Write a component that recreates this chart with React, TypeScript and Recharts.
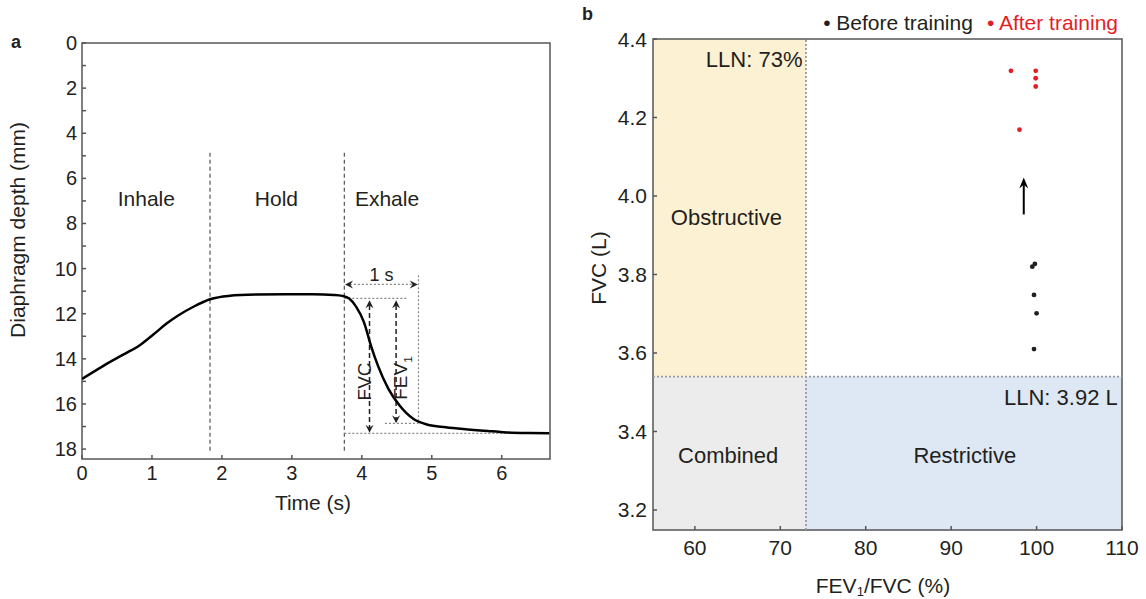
import React from "react";
import {
  ComposedChart,
  Line,
  ReferenceArea,
  ReferenceDot,
  ReferenceLine,
  Scatter,
  XAxis,
  YAxis,
} from "recharts";

const FONT = '"Liberation Sans", Arial, Helvetica, sans-serif';
const INK = "#231f20";
const FRAME = "#555555";
const RED = "#e41e26";

// panel a – diaphragm trace during a forced breath
const traceTime = [
  0, 0.3, 0.61, 0.8, 1.02, 1.2, 1.38, 1.6, 1.83, 2.09, 2.5, 2.91, 3.3, 3.6, 3.72,
  3.82, 3.92, 4.03, 4.13, 4.23, 4.38, 4.54, 4.74, 4.94, 5.2, 5.45, 5.8, 6.07, 6.4, 6.68,
];
const traceDepth = [
  14.89, 14.32, 13.78, 13.45, 12.92, 12.46, 12.07, 11.68, 11.36, 11.21, 11.15, 11.14,
  11.14, 11.17, 11.21, 11.33, 11.7, 12.37, 13.41, 14.3, 15.33, 16.07, 16.67, 16.92,
  17.03, 17.11, 17.2, 17.26, 17.29, 17.3,
];
const timeTicks = [0, 1, 2, 3, 4, 5, 6];
const depthTicks = [0, 1, 2, 3, 4, 5, 6, 7, 8, 9, 10, 11, 12, 13, 14, 15, 16, 17, 18];
const phaseNames = ["Inhale", "Hold", "Exhale"];
const phaseCentres = [0.92, 2.78, 4.36];
const phaseBounds = [1.83, 3.75];

// panel b – FVC vs FEV1/FVC
const beforeRatio = [99.5, 99.8, 99.7, 100.0, 99.7];
const beforeFvc = [3.82, 3.827, 3.748, 3.701, 3.61];
const afterRatio = [97.0, 99.9, 99.9, 99.9, 98.0];
const afterFvc = [4.319, 4.319, 4.3, 4.279, 4.169];
const ratioTicks = [60, 70, 80, 90, 100, 110];
const fvcTicks = [3.2, 3.4, 3.6, 3.8, 4.0, 4.2, 4.4];
const seriesNames = ["Before training", "After training"];
const seriesColors = [INK, RED];
const llnRatio = 73;
const llnFvc = 3.54;

const TIME_MAX = 6.69;
const DEPTH_MAX = 18.44;
const RATIO_MIN = 55.1;
const RATIO_MAX = 110;
const FVC_MIN = 3.149;
const FVC_MAX = 4.4;

const trace = traceTime.map((t, i) => ({ t, depth: traceDepth[i] }));
const before = beforeRatio.map((ratio, i) => ({ ratio, fvc: beforeFvc[i] }));
const after = afterRatio.map((ratio, i) => ({ ratio, fvc: afterFvc[i] }));

function Caption(props: any) {
  const vb = props.viewBox ?? { x: 0, y: 0, width: 0, height: 0 };
  const cx = vb.x + (vb.width ?? 0) / 2 + (props.shiftX ?? 0);
  const cy = vb.y + (vb.height ?? 0) / 2 + (props.shiftY ?? 0);
  const size = props.size ?? 20;
  return (
    <text
      x={cx}
      y={cy}
      textAnchor={props.anchor ?? "middle"}
      dominantBaseline="central"
      transform={props.rotate ? `rotate(${props.rotate} ${cx} ${cy})` : undefined}
      fontSize={size}
      fontFamily={FONT}
      fill={props.color ?? INK}
    >
      {props.text}
      {props.sub && (
        <tspan fontSize={size * 0.62} dy={size * 0.3}>
          {props.sub}
        </tspan>
      )}
      {props.tail && <tspan dy={-size * 0.3}>{props.tail}</tspan>}
    </text>
  );
}

function makeTick(side: "x" | "y", size: number, gap: number, fmt: (v: number) => string | null) {
  return (props: any) => {
    const { x, y, payload } = props;
    const label = fmt(payload.value);
    if (side === "y") {
      return (
        <g>
          <line x1={x} x2={x + 4} y1={y} y2={y} stroke={FRAME} strokeWidth={1.5} />
          {label !== null && (
            <text x={x - gap} y={y} textAnchor="end" dominantBaseline="central" fontSize={size} fontFamily={FONT} fill={INK}>
              {label}
            </text>
          )}
        </g>
      );
    }
    return (
      <g>
        <line x1={x} x2={x} y1={y} y2={y - 4} stroke={FRAME} strokeWidth={1.5} />
        {label !== null && (
          <text x={x} y={y + gap} textAnchor="middle" dominantBaseline="central" fontSize={size} fontFamily={FONT} fill={INK}>
            {label}
          </text>
        )}
      </g>
    );
  };
}

function arrowLine(ends: "start" | "end" | "both", color: string, head = 8, half = 4) {
  return (p: any) => {
    const x1 = Number(p.x1);
    const y1 = Number(p.y1);
    const x2 = Number(p.x2);
    const y2 = Number(p.y2);
    const len = Math.hypot(x2 - x1, y2 - y1) || 1;
    const ux = (x2 - x1) / len;
    const uy = (y2 - y1) / len;
    const nx = -uy;
    const ny = ux;
    const tri = (tx: number, ty: number, dx: number, dy: number) => {
      const bx = tx - head * dx;
      const by = ty - head * dy;
      const mx = tx - head * 0.65 * dx;
      const my = ty - head * 0.65 * dy;
      return `${tx},${ty} ${bx + half * nx},${by + half * ny} ${mx},${my} ${bx - half * nx},${by - half * ny}`;
    };
    const hasStart = ends !== "end";
    const hasEnd = ends !== "start";
    const sx = x1 + (hasStart ? head * 0.6 * ux : 0);
    const sy = y1 + (hasStart ? head * 0.6 * uy : 0);
    const ex = x2 - (hasEnd ? head * 0.6 * ux : 0);
    const ey = y2 - (hasEnd ? head * 0.6 * uy : 0);
    return (
      <g>
        <line x1={sx} y1={sy} x2={ex} y2={ey} stroke={p.stroke} strokeWidth={p.strokeWidth} strokeDasharray={p.strokeDasharray} />
        {hasStart && <polygon points={tri(x1, y1, -ux, -uy)} fill={color} />}
        {hasEnd && <polygon points={tri(x2, y2, ux, uy)} fill={color} />}
      </g>
    );
  };
}

function TracePanel() {
  return (
    <ComposedChart
      width={570}
      height={530}
      data={trace}
      margin={{ top: 43, right: 20, bottom: 0, left: 0 }}
      style={{ fontFamily: FONT }}
    >
      <XAxis
        dataKey="t"
        type="number"
        domain={[0, TIME_MAX]}
        ticks={timeTicks}
        interval={0}
        allowDataOverflow
        axisLine={false}
        tickLine={false}
        tickSize={0}
        tickMargin={0}
        height={71}
        tick={makeTick("x", 20, 14, (v) => String(v))}
        label={<Caption text="Time (s)" size={21} shiftX={-3} shiftY={7.5} />}
      />
      <YAxis
        type="number"
        domain={[0, DEPTH_MAX]}
        reversed
        ticks={depthTicks}
        interval={0}
        allowDataOverflow
        axisLine={false}
        tickLine={false}
        tickSize={0}
        tickMargin={0}
        width={82}
        tick={makeTick("y", 20, 5, (v) => (v % 2 === 0 ? String(v) : null))}
        label={<Caption text="Diaphragm depth (mm)" size={21} rotate={-90} shiftX={-24} shiftY={-21} />}
      />
      {phaseBounds.map((t) => (
        <ReferenceLine
          key={t}
          segment={[{ x: t, y: 4.87 }, { x: t, y: 18.15 }]}
          stroke="#555"
          strokeWidth={1.2}
          strokeDasharray="4 3"
        />
      ))}
      {phaseNames.map((name, i) => (
        <ReferenceDot key={name} x={phaseCentres[i]} y={6.9} r={0} stroke="none" fill="none" label={<Caption text={name} size={21} />} />
      ))}
      <ReferenceLine segment={[{ x: 3.75, y: 11.32 }, { x: 4.65, y: 11.32 }]} stroke="#888" strokeWidth={1.2} strokeDasharray="2 2" />
      <ReferenceLine segment={[{ x: 4.81, y: 10.3 }, { x: 4.81, y: 16.86 }]} stroke="#888" strokeWidth={1.2} strokeDasharray="2 2" />
      <ReferenceLine segment={[{ x: 4.33, y: 16.86 }, { x: 4.81, y: 16.86 }]} stroke="#888" strokeWidth={1.2} strokeDasharray="2 2" />
      <ReferenceLine segment={[{ x: 3.75, y: 17.3 }, { x: TIME_MAX, y: 17.3 }]} stroke="#888" strokeWidth={1.2} strokeDasharray="2 2" />
      <ReferenceLine
        segment={[{ x: 3.76, y: 10.7 }, { x: 4.8, y: 10.7 }]}
        stroke="#888"
        strokeWidth={1.2}
        strokeDasharray="2 2"
        shape={arrowLine("both", INK, 8, 4)}
      />
      <ReferenceLine
        segment={[{ x: 4.11, y: 11.4 }, { x: 4.11, y: 17.28 }]}
        stroke={INK}
        strokeWidth={1.5}
        strokeDasharray="5 3"
        shape={arrowLine("both", INK, 8, 4)}
      />
      <ReferenceLine
        segment={[{ x: 4.49, y: 11.4 }, { x: 4.49, y: 16.86 }]}
        stroke={INK}
        strokeWidth={1.5}
        strokeDasharray="5 3"
        shape={arrowLine("both", INK, 8, 4)}
      />
      <Line type="monotone" dataKey="depth" stroke="#000" strokeWidth={2.5} dot={false} isAnimationActive={false} />
      <ReferenceDot x={4.28} y={10.3} r={0} stroke="none" fill="none" label={<Caption text="1 s" size={18} />} />
      <ReferenceDot x={4.04} y={15.0} r={0} stroke="none" fill="none" label={<Caption text="FVC" size={19} rotate={-90} />} />
      <ReferenceDot x={4.56} y={14.85} r={0} stroke="none" fill="none" label={<Caption text="FEV" sub="1" size={19} rotate={-90} />} />
      <ReferenceArea x1={0} x2={TIME_MAX} y1={0} y2={DEPTH_MAX} fill="none" stroke={FRAME} strokeWidth={1.5} />
    </ComposedChart>
  );
}

const dotShape = (color: string) => (p: any) => <circle cx={p.cx} cy={p.cy} r={2.4} fill={color} />;

function SpiroPanel() {
  return (
    <ComposedChart
      width={566}
      height={599}
      margin={{ top: 39, right: 24, bottom: 0, left: 0 }}
      style={{ fontFamily: FONT }}
    >
      <XAxis
        dataKey="ratio"
        type="number"
        domain={[RATIO_MIN, RATIO_MAX]}
        ticks={ratioTicks}
        interval={0}
        allowDataOverflow
        axisLine={false}
        tickLine={false}
        tickSize={0}
        tickMargin={0}
        height={69}
        tick={makeTick("x", 21, 17, (v) => String(v))}
        label={<Caption text="FEV" sub="1" tail="/FVC (%)" size={21} shiftX={-4.5} shiftY={20.5} />}
      />
      <YAxis
        dataKey="fvc"
        type="number"
        domain={[FVC_MIN, FVC_MAX]}
        ticks={fvcTicks}
        interval={0}
        allowDataOverflow
        axisLine={false}
        tickLine={false}
        tickSize={0}
        tickMargin={0}
        width={73}
        tick={makeTick("y", 21, 6, (v) => v.toFixed(1))}
        label={<Caption text="FVC (L)" size={21} rotate={-90} shiftX={-18.5} shiftY={-16.5} />}
      />
      <ReferenceArea x1={RATIO_MIN} x2={llnRatio} y1={llnFvc} y2={FVC_MAX} fill="#fdf1d3" fillOpacity={1} stroke="none" />
      <ReferenceArea x1={RATIO_MIN} x2={llnRatio} y1={FVC_MIN} y2={llnFvc} fill="#ececec" fillOpacity={1} stroke="none" />
      <ReferenceArea x1={llnRatio} x2={RATIO_MAX} y1={FVC_MIN} y2={llnFvc} fill="#dde8f4" fillOpacity={1} stroke="none" />
      <ReferenceLine x={llnRatio} stroke="#9a9a9a" strokeWidth={1.8} strokeDasharray="2 2" />
      <ReferenceLine y={llnFvc} stroke="#9a9a9a" strokeWidth={1.8} strokeDasharray="2 2" />
      <ReferenceDot x={72.6} y={4.349} r={0} stroke="none" fill="none" label={<Caption text="LLN: 73%" anchor="end" size={22} />} />
      <ReferenceDot x={63.7} y={3.945} r={0} stroke="none" fill="none" label={<Caption text="Obstructive" size={22} />} />
      <ReferenceDot x={63.9} y={3.338} r={0} stroke="none" fill="none" label={<Caption text="Combined" size={22} />} />
      <ReferenceDot x={91.6} y={3.338} r={0} stroke="none" fill="none" label={<Caption text="Restrictive" size={22} />} />
      <ReferenceDot x={109.5} y={3.487} r={0} stroke="none" fill="none" label={<Caption text="LLN: 3.92 L" anchor="end" size={22} />} />
      <ReferenceLine
        segment={[{ x: 98.5, y: 3.953 }, { x: 98.5, y: 4.047 }]}
        stroke="#000"
        strokeWidth={2}
        shape={arrowLine("end", "#000", 11, 4.5)}
      />
      <Scatter name={seriesNames[0]} data={before} dataKey="fvc" fill={seriesColors[0]} shape={dotShape(seriesColors[0])} isAnimationActive={false} />
      <Scatter name={seriesNames[1]} data={after} dataKey="fvc" fill={seriesColors[1]} shape={dotShape(seriesColors[1])} isAnimationActive={false} />
      <ReferenceArea x1={RATIO_MIN} x2={RATIO_MAX} y1={FVC_MIN} y2={FVC_MAX} fill="none" stroke={FRAME} strokeWidth={1.5} />
    </ComposedChart>
  );
}

export default function App() {
  return (
    <div style={{ position: "absolute", left: 0, top: 0, width: 1146, height: 599, background: "#fff", fontFamily: FONT, color: INK }}>
      <div style={{ position: "absolute", left: 0, top: 0 }}>
        <TracePanel />
      </div>
      <div style={{ position: "absolute", left: 580, top: 0 }}>
        <SpiroPanel />
      </div>
      <div style={{ position: "absolute", left: 11, top: 31, fontSize: 18, fontWeight: 700, lineHeight: "22px" }}>a</div>
      <div style={{ position: "absolute", left: 582, top: 3, fontSize: 18, fontWeight: 700, lineHeight: "22px" }}>b</div>
      <div
        style={{
          position: "absolute",
          right: 28,
          top: 9,
          display: "flex",
          gap: 14,
          fontSize: 21,
          lineHeight: "28px",
          whiteSpace: "nowrap",
        }}
      >
        {seriesNames.map((name, i) => (
          <span key={name} style={{ color: seriesColors[i] }}>
            {"\u2022 " + name}
          </span>
        ))}
      </div>
    </div>
  );
}
